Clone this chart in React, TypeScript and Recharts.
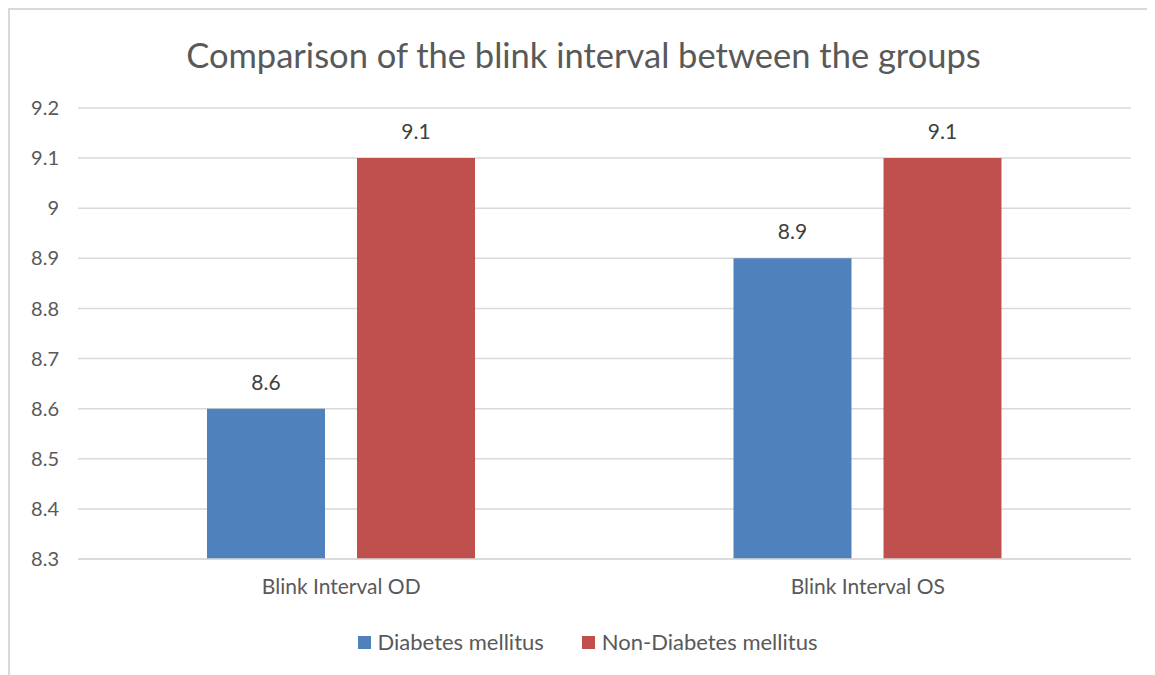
import React from 'react';
import { BarChart, Bar, XAxis, YAxis, CartesianGrid, Legend, LabelList } from 'recharts';

// Categories and values
const categories: string[] = ['Blink Interval OD', 'Blink Interval OS'];
const diabetesValues: number[] = [8.6, 8.9];
const nonDiabetesValues: number[] = [9.1, 9.1];
const yTicks: number[] = [8.3, 8.4, 8.5, 8.6, 8.7, 8.8, 8.9, 9.0, 9.1, 9.2];

const seriesInfo = [
  { key: 'dm', name: 'Diabetes mellitus', color: '#4F81BD' },
  { key: 'ndm', name: 'Non-Diabetes mellitus', color: '#C0504D' },
];

const data = categories.map((c, i) => ({
  category: c,
  dm: diabetesValues[i],
  ndm: nonDiabetesValues[i],
}));

const FONT = 'Lato, "Open Sans", sans-serif';
const fmt = (v: number) => String(Number(v.toFixed(1)));

const renderLegend = () => (
  <div
    style={{
      display: 'flex',
      justifyContent: 'center',
      fontFamily: FONT,
      fontSize: 22,
      lineHeight: '26px',
      paddingTop: 12,
      paddingLeft: 34,
      color: '#595959',
    }}
  >
    {seriesInfo.map((s, i) => (
      <div key={s.key} style={{ display: 'flex', alignItems: 'center', marginLeft: i === 0 ? 0 : 38 }}>
        <span style={{ width: 13, height: 13, background: s.color, display: 'inline-block', marginRight: 7 }} />
        <span>{s.name}</span>
      </div>
    ))}
  </div>
);

const App: React.FC = () => {
  return (
    <div
      style={{
        position: 'relative',
        width: 1147,
        height: 667,
        borderLeft: '2px solid #d9d9d9',
        borderTop: '2px solid #d9d9d9',
        boxSizing: 'border-box',
        background: '#fff',
      }}
    >
      <div
        style={{
          position: 'absolute',
          top: 24,
          left: 0,
          width: 1147,
          textAlign: 'center',
          fontFamily: FONT,
          fontSize: 34.5,
          color: '#595959',
        }}
      >
        Comparison of the blink interval between the groups
      </div>
      <BarChart
        width={1145}
        height={665}
        data={data}
        margin={{ top: 98, right: 24, bottom: 10, left: 0 }}
        barGap={32}
        barSize={118}
      >
        <CartesianGrid vertical={false} stroke="#d9d9d9" strokeWidth={1.5} />
        <XAxis
          dataKey="category"
          axisLine={{ stroke: '#d9d9d9', strokeWidth: 1.5 }}
          tickLine={false}
          tickSize={0}
          tickMargin={20}
          height={58}
          tick={{ fill: '#595959', fontSize: 21, fontFamily: FONT }}
        />
        <YAxis
          domain={[8.3, 9.2]}
          ticks={yTicks}
          tickFormatter={fmt}
          axisLine={false}
          tickLine={false}
          tickSize={0}
          tickMargin={19}
          width={68}
          tick={{ fill: '#595959', fontSize: 20, fontFamily: FONT }}
        />
        <Legend verticalAlign="bottom" height={48} content={renderLegend} />
        {seriesInfo.map((s) => (
          <Bar key={s.key} dataKey={s.key} name={s.name} fill={s.color} isAnimationActive={false}>
            <LabelList
              dataKey={s.key}
              position="top"
              offset={19}
              formatter={(v: any) => fmt(Number(v))}
              style={{ fill: '#404040', fontSize: 21, fontFamily: FONT }}
            />
          </Bar>
        ))}
      </BarChart>
    </div>
  );
};

export default App;
